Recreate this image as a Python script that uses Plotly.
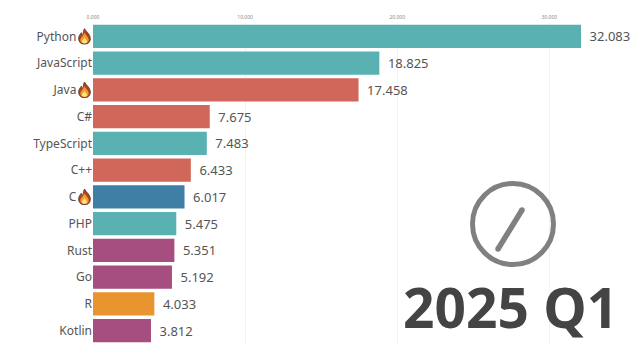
import plotly.graph_objects as go

languages = ["Python", "JavaScript", "Java", "C#", "TypeScript", "C++", "C", "PHP", "Rust", "Go", "R", "Kotlin"]
values = [32083, 18825, 17458, 7675, 7483, 6433, 6017, 5475, 5351, 5192, 4033, 3812]
value_labels = ["32.083", "18.825", "17.458", "7.675", "7.483", "6.433", "6.017", "5.475", "5.351", "5.192", "4.033", "3.812"]
bar_colors = ["#5AB1B1", "#5AB1B1", "#D0675A", "#D0675A", "#5AB1B1", "#D0675A", "#3F7FA6", "#5AB1B1", "#A64E80", "#A64E80", "#E8952F", "#A64E80"]
flame_languages = ["Python", "Java", "C"]
tick_values = [0, 10000, 20000, 30000]
tick_labels = ["0.000", "10.000", "20.000", "30.000"]
period = "2025 Q1"

W, H = 637, 355
L, R, T, B = 93, 37, 23, 11


def px(x):
    return (x - L) / (W - L - R)


def py(y):
    return 1 - (y - T) / (H - T - B)


FLAME = (
    "data:image/svg+xml;utf8,<svg xmlns='http://www.w3.org/2000/svg' viewBox='0 0 24 30'>"
    "<path d='M12 0C14 6 23 10 23 19C23 26 18 30 12 30C6 30 1 26 1 19C1 14 4 11 6 8C7 11 8 12 9 12C10 8 10 4 12 0Z' fill='%23A8451F' stroke='%23593320' stroke-width='1.5'/>"
    "<path d='M12 8C14 13 20 16 20 22C20 26 16 28.500 12 28.500C8 28.500 4 26 4 22C4 18 9 14 12 8Z' fill='%23F59A2C'/>"
    "<path d='M12 17C13 20 17 22 17 25C17 27 14 28 12 28C10 28 7 27 7 25C7 22 11 20 12 17Z' fill='%23FCE27A'/>"
    "</svg>"
)

fig = go.Figure(
    go.Bar(
        x=values,
        y=languages,
        orientation="h",
        marker=dict(color=bar_colors, line=dict(width=0)),
        width=0.87,
        text=["\u00a0\u2009" + v for v in value_labels],
        textposition="outside",
        cliponaxis=False,
        textfont=dict(family="Noto Sans", size=13, color="#555555"),
        hoverinfo="skip",
    )
)

row_h = (H - T - B) / len(languages)
images = []
for name in flame_languages:
    row_center = T + (languages.index(name) + 0.5) * row_h
    images.append(dict(
        source=FLAME, xref="paper", yref="paper", x=px(84.5), y=py(row_center),
        sizex=13 / (W - L - R), sizey=16 / (H - T - B),
        xanchor="center", yanchor="middle", sizing="contain", layer="above",
    ))

ticktext = [f"{n}\u00a0\u00a0\u00a0\u00a0\u00a0" if n in flame_languages else n for n in languages]

cx, cy, r = 513, 224, 40.5
hand = [(498, 249), (522, 210)]
hand_w = 5.5
shapes = [
    dict(type="circle", xref="paper", yref="paper", x0=px(cx - r), x1=px(cx + r),
         y0=py(cy + r), y1=py(cy - r), line=dict(color="#808080", width=5)),
    dict(type="line", xref="paper", yref="paper", x0=px(hand[0][0]), y0=py(hand[0][1]),
         x1=px(hand[1][0]), y1=py(hand[1][1]), line=dict(color="#808080", width=hand_w)),
]
for hx, hy in hand:
    shapes.append(dict(
        type="circle", xref="paper", yref="paper", fillcolor="#808080", line=dict(width=0),
        x0=px(hx - hand_w / 2), x1=px(hx + hand_w / 2), y0=py(hy + hand_w / 2), y1=py(hy - hand_w / 2),
    ))

fig.update_layout(
    width=W, height=H, autosize=False,
    margin=dict(l=L, r=R, t=T, b=B, pad=0),
    paper_bgcolor="white", plot_bgcolor="white",
    showlegend=False,
    images=images,
    shapes=shapes,
    xaxis=dict(
        range=[0, 33333], side="top", tickvals=tick_values, ticktext=tick_labels,
        tickfont=dict(family="Noto Sans", size=5, color="#8a8a8a"),
        showgrid=True, gridcolor="#f3f3f3", gridwidth=1, zeroline=False, ticks="", ticklen=0,
        showline=False, ticklabelstandoff=2,
    ),
    yaxis=dict(
        autorange=False, range=[11.5, -0.5], type="category", categoryorder="array", categoryarray=languages,
        tickvals=languages, ticktext=ticktext, ticks="", showgrid=False, showline=False, zeroline=False,
        tickfont=dict(family="Noto Sans", size=12, color="#555555"),
    ),
    annotations=[dict(
        text=period, xref="paper", yref="paper", x=px(619.5), y=py(306), xanchor="right", yanchor="middle",
        showarrow=False, font=dict(family="Noto Sans", size=55, color="#444444", weight="bold"),
    )],
)
fig.write_html("out.html", post_script="document.body.style.margin='0';", config={"displayModeBar": False})
